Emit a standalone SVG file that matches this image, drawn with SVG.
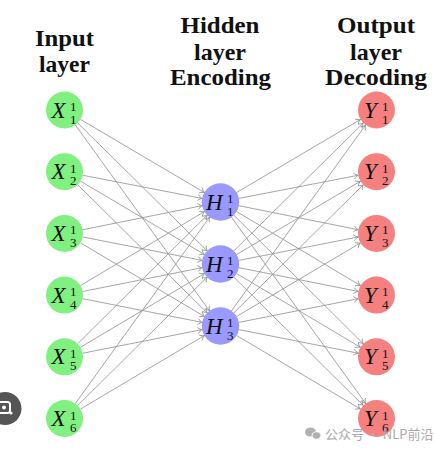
<svg xmlns="http://www.w3.org/2000/svg" width="435" height="451" viewBox="0 0 435 451">
<defs>
<marker id="arr" markerUnits="userSpaceOnUse" markerWidth="10" markerHeight="10" viewBox="-6 -5 7 10" refX="0" refY="0" orient="auto" overflow="visible">
<path d="M-4.5,-3 C-3,-1.2 -1.2,-0.3 0,0 C-1.2,0.3 -3,1.2 -4.5,3" fill="none" stroke="#8a8a8a" stroke-width="0.8"/>
</marker>
</defs>
<style>
.hd{font-family:"Liberation Serif","Times New Roman",serif;font-weight:bold;font-size:23px;fill:#111;text-anchor:middle}
.cn line{stroke:#8f8f8f;stroke-width:0.8;marker-end:url(#arr)}
.in{fill:#80f080}
.hi{fill:#9999ff}
.ou{fill:#f58080}
.m{font-family:"Liberation Serif","Times New Roman",serif;font-style:italic;font-size:23px;fill:#111}
.s{font-family:"Liberation Serif","Times New Roman",serif;font-size:13px;fill:#111}
.wm{font-family:"Noto Sans CJK SC","Noto Sans",sans-serif;font-size:13px;fill:#aaaaaa}
</style>
<rect width="435" height="451" fill="#ffffff"/>
<g id="headings">
<text class="hd" x="64.5" y="46" textLength="59" lengthAdjust="spacingAndGlyphs">Input</text>
<text class="hd" x="64.5" y="72" textLength="51" lengthAdjust="spacingAndGlyphs">layer</text>
<text class="hd" x="220" y="33" textLength="79" lengthAdjust="spacingAndGlyphs">Hidden</text>
<text class="hd" x="220" y="60" textLength="52" lengthAdjust="spacingAndGlyphs">layer</text>
<text class="hd" x="220.5" y="85" textLength="101" lengthAdjust="spacingAndGlyphs">Encoding</text>
<text class="hd" x="376" y="33" textLength="78" lengthAdjust="spacingAndGlyphs">Output</text>
<text class="hd" x="376" y="60" textLength="52" lengthAdjust="spacingAndGlyphs">layer</text>
<text class="hd" x="376" y="85" textLength="102" lengthAdjust="spacingAndGlyphs">Decoding</text>
</g>
<g id="connectors" class="cn">
<line x1="80.45" y1="119.38" x2="204.55" y2="192.62"/>
<line x1="82.66" y1="175.22" x2="202.34" y2="198.48"/>
<line x1="82.64" y1="229.76" x2="202.36" y2="205.64"/>
<line x1="80.40" y1="285.64" x2="204.60" y2="211.46"/>
<line x1="77.65" y1="343.79" x2="207.35" y2="215.01"/>
<line x1="75.34" y1="403.51" x2="209.66" y2="216.99"/>
<line x1="77.68" y1="122.97" x2="207.32" y2="251.03"/>
<line x1="80.43" y1="181.10" x2="204.57" y2="254.60"/>
<line x1="82.65" y1="236.95" x2="202.35" y2="260.45"/>
<line x1="82.64" y1="291.49" x2="202.36" y2="267.61"/>
<line x1="80.42" y1="347.36" x2="204.58" y2="273.44"/>
<line x1="77.67" y1="405.50" x2="207.33" y2="277.00"/>
<line x1="75.36" y1="124.98" x2="209.64" y2="311.02"/>
<line x1="77.67" y1="184.69" x2="207.33" y2="313.01"/>
<line x1="80.43" y1="242.82" x2="204.57" y2="316.58"/>
<line x1="82.65" y1="298.68" x2="202.35" y2="322.42"/>
<line x1="82.65" y1="353.23" x2="202.35" y2="329.57"/>
<line x1="80.43" y1="409.09" x2="204.57" y2="335.41"/>
<line x1="236.45" y1="192.62" x2="360.55" y2="119.38"/>
<line x1="238.66" y1="198.48" x2="358.34" y2="175.22"/>
<line x1="238.64" y1="205.64" x2="358.36" y2="229.76"/>
<line x1="236.40" y1="211.46" x2="360.60" y2="285.64"/>
<line x1="233.65" y1="215.01" x2="363.35" y2="343.79"/>
<line x1="231.34" y1="216.99" x2="365.66" y2="403.51"/>
<line x1="233.68" y1="251.03" x2="363.32" y2="122.97"/>
<line x1="236.43" y1="254.60" x2="360.57" y2="181.10"/>
<line x1="238.65" y1="260.45" x2="358.35" y2="236.95"/>
<line x1="238.64" y1="267.61" x2="358.36" y2="291.49"/>
<line x1="236.42" y1="273.44" x2="360.58" y2="347.36"/>
<line x1="233.67" y1="277.00" x2="363.33" y2="405.50"/>
<line x1="231.36" y1="311.02" x2="365.64" y2="124.98"/>
<line x1="233.67" y1="313.01" x2="363.33" y2="184.69"/>
<line x1="236.43" y1="316.58" x2="360.57" y2="242.82"/>
<line x1="238.65" y1="322.42" x2="358.35" y2="298.68"/>
<line x1="238.65" y1="329.57" x2="358.35" y2="353.23"/>
<line x1="236.43" y1="335.41" x2="360.57" y2="409.09"/>
</g>
<g id="X1"><circle class="in" cx="64.5" cy="110" r="18.5"/><text class="m" x="51.5" y="117.5">X</text><text class="s" x="70" y="111">1</text><text class="s" x="70" y="123.5">1</text></g>
<g id="X2"><circle class="in" cx="64.5" cy="171.7" r="18.5"/><text class="m" x="51.5" y="179.2">X</text><text class="s" x="70" y="172.7">1</text><text class="s" x="70" y="185.2">2</text></g>
<g id="X3"><circle class="in" cx="64.5" cy="233.4" r="18.5"/><text class="m" x="51.5" y="240.9">X</text><text class="s" x="70" y="234.4">1</text><text class="s" x="70" y="246.9">3</text></g>
<g id="X4"><circle class="in" cx="64.5" cy="295.1" r="18.5"/><text class="m" x="51.5" y="302.6">X</text><text class="s" x="70" y="296.1">1</text><text class="s" x="70" y="308.6">4</text></g>
<g id="X5"><circle class="in" cx="64.5" cy="356.8" r="18.5"/><text class="m" x="51.5" y="364.3">X</text><text class="s" x="70" y="357.8">1</text><text class="s" x="70" y="370.3">5</text></g>
<g id="X6"><circle class="in" cx="64.5" cy="418.5" r="18.5"/><text class="m" x="51.5" y="426">X</text><text class="s" x="70" y="419.5">1</text><text class="s" x="70" y="432">6</text></g>
<g id="H1"><circle class="hi" cx="220.5" cy="202" r="18.7"/><text class="m" x="206" y="209.5">H</text><text class="s" x="227" y="203">1</text><text class="s" x="227" y="215.5">1</text></g>
<g id="H2"><circle class="hi" cx="220.5" cy="264" r="18.7"/><text class="m" x="206" y="271.5">H</text><text class="s" x="227" y="265">1</text><text class="s" x="227" y="277.5">2</text></g>
<g id="H3"><circle class="hi" cx="220.5" cy="326" r="18.7"/><text class="m" x="206" y="333.5">H</text><text class="s" x="227" y="327">1</text><text class="s" x="227" y="339.5">3</text></g>
<g id="Y1"><circle class="ou" cx="376.5" cy="110" r="18.5"/><text class="m" x="364" y="117.5">Y</text><text class="s" x="382" y="111">1</text><text class="s" x="382" y="123.5">1</text></g>
<g id="Y2"><circle class="ou" cx="376.5" cy="171.7" r="18.5"/><text class="m" x="364" y="179.2">Y</text><text class="s" x="382" y="172.7">1</text><text class="s" x="382" y="185.2">2</text></g>
<g id="Y3"><circle class="ou" cx="376.5" cy="233.4" r="18.5"/><text class="m" x="364" y="240.9">Y</text><text class="s" x="382" y="234.4">1</text><text class="s" x="382" y="246.9">3</text></g>
<g id="Y4"><circle class="ou" cx="376.5" cy="295.1" r="18.5"/><text class="m" x="364" y="302.6">Y</text><text class="s" x="382" y="296.1">1</text><text class="s" x="382" y="308.6">4</text></g>
<g id="Y5"><circle class="ou" cx="376.5" cy="356.8" r="18.5"/><text class="m" x="364" y="364.3">Y</text><text class="s" x="382" y="357.8">1</text><text class="s" x="382" y="370.3">5</text></g>
<g id="Y6"><circle class="ou" cx="376.5" cy="418.5" r="18.5"/><text class="m" x="364" y="426">Y</text><text class="s" x="382" y="419.5">1</text><text class="s" x="382" y="432">6</text></g>
<g id="watermark">
<ellipse cx="310.5" cy="432" rx="5.5" ry="4.5" fill="#b0b0b0"/>
<ellipse cx="316.5" cy="435.5" rx="4.5" ry="3.8" fill="#b0b0b0" stroke="#ffffff" stroke-width="1"/>
<text class="wm" x="325" y="439">公众号 · NLP前沿</text>
</g>
<g id="lens">
<circle cx="5" cy="408.5" r="16.5" fill="#555555"/>
<rect x="-3" y="402" width="13" height="11" rx="2.5" fill="none" stroke="#ffffff" stroke-width="2"/>
<circle cx="4" cy="407.5" r="2" fill="#ffffff"/>
<circle cx="11" cy="413" r="1.5" fill="#ffffff"/>
</g>
</svg>
